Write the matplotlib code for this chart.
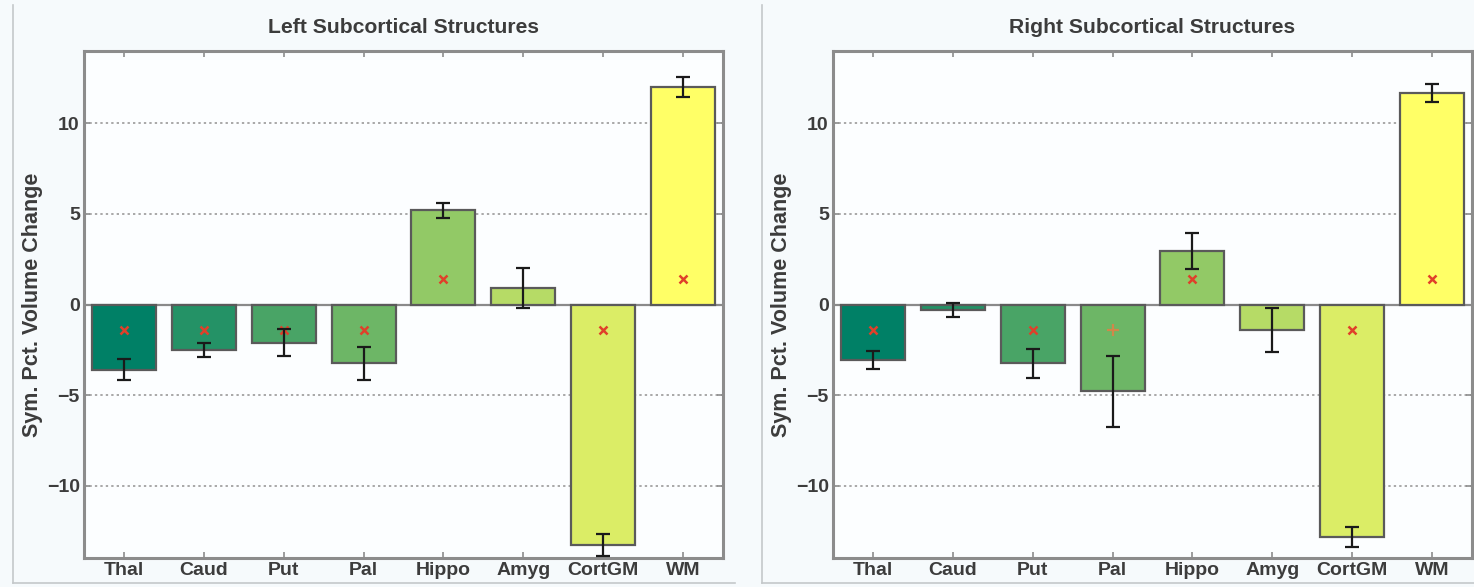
import numpy as np
import matplotlib
matplotlib.use("Agg")
import matplotlib.pyplot as plt
from matplotlib.lines import Line2D

# structures and symmetric percent volume change (mean, sem)
structures = ["Thal", "Caud", "Put", "Pal", "Hippo", "Amyg", "CortGM", "WM"]

left_change = [-3.6, -2.5, -2.1, -3.25, 5.2, 0.9, -13.3, 12.0]
left_err = [0.57, 0.4, 0.75, 0.9, 0.4, 1.1, 0.6, 0.55]
left_sig = ["x", "x", "x", "x", "x", "", "x", "x"]

right_change = [-3.05, -0.3, -3.25, -4.8, 2.95, -1.4, -12.85, 11.7]
right_err = [0.5, 0.4, 0.8, 1.95, 1.0, 1.2, 0.55, 0.5]
right_sig = ["x", "", "x", "+", "x", "", "x", "x"]

SIG_OFFSET = 1.4  # where the significance marker sits inside the bar

plt.rcParams["font.family"] = ["Liberation Sans", "DejaVu Sans"]
plt.rcParams["font.weight"] = "bold"
text_color = "#3c3c3c"
frame_color = "#8c8c8c"

W, H = 1474, 587
fig = plt.figure(figsize=(W / 100, H / 100), dpi=100, facecolor="#f6fafc")


def px_axes(x0, y0, x1, y1):
    return fig.add_axes([x0 / W, 1 - y1 / H, (x1 - x0) / W, (y1 - y0) / H])


def draw_panel(ax, title, values, errs, sig):
    x = np.arange(1, len(structures) + 1)
    colors = plt.cm.summer(np.linspace(0, 1, len(structures)))
    ax.set_facecolor("#fcfeff")

    ax.grid(axis="y", linestyle=(0, (1.2, 1.6)), color="#a8a8a8", linewidth=1.4)
    ax.set_axisbelow(True)
    ax.axhline(0, color="#8a8a8a", linewidth=1.6, zorder=1.5)

    ax.bar(x, values, width=0.8, color=colors, edgecolor="#5a5a5a",
           linewidth=1.6, zorder=2)
    ax.errorbar(x, values, yerr=errs, fmt="none", ecolor="#1a1a1a",
                elinewidth=1.6, capsize=5, capthick=1.6, zorder=4)

    for xi, v, s in zip(x, values, sig):
        if not s:
            continue
        ym = np.sign(v) * SIG_OFFSET
        if s == "x":
            ax.plot(xi, ym, marker="x", color="#e0402a", markersize=6,
                    markeredgewidth=1.8, zorder=3)
        else:
            ax.plot(xi, ym, marker="+", color="#d0884a", markersize=8,
                    markeredgewidth=1.6, zorder=3)

    ax.set_xlim(0.5, 8.5)
    ax.set_ylim(-14, 14)
    ax.set_xticks(x)
    ax.set_xticklabels(structures)
    ax.set_yticks([-10, -5, 0, 5, 10])
    ax.tick_params(axis="both", direction="in", length=4, width=1.2,
                   color=frame_color, labelsize=14, labelcolor=text_color,
                   top=True, right=True, pad=3)
    for sp in ax.spines.values():
        sp.set_color(frame_color)
        sp.set_linewidth(2.2)

    ax.set_title(title, fontsize=15.2, color=text_color, pad=13, fontweight="bold")
    ax.set_ylabel("Sym. Pct. Volume Change", fontsize=15.5, color=text_color,
                  labelpad=3, fontweight="bold")


ax_left = px_axes(84, 51, 723, 558)
ax_right = px_axes(833, 51, 1472, 558)
draw_panel(ax_left, "Left Subcortical Structures", left_change, left_err, left_sig)
draw_panel(ax_right, "Right Subcortical Structures", right_change, right_err, right_sig)

# thin panel borders around each subplot area
panel_color = "#c4c8ca"
for x0, x1 in [(13, 735), (762, 1474)]:
    fig.add_artist(Line2D([x0 / W, x0 / W], [1 - 5 / H, 1 - 583 / H],
                          transform=fig.transFigure, color=panel_color, linewidth=1.2))
    fig.add_artist(Line2D([x0 / W, x1 / W], [1 - 583 / H, 1 - 583 / H],
                          transform=fig.transFigure, color=panel_color, linewidth=1.2))

fig.savefig("out.png", dpi=100, facecolor=fig.get_facecolor())
